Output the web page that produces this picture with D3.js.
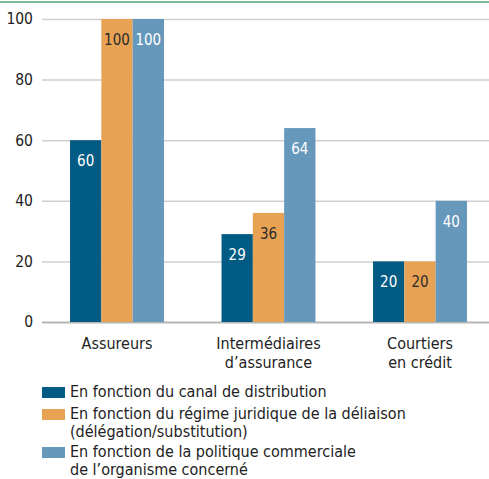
<!DOCTYPE html>
<html><head><meta charset="utf-8">
<script src="https://cdn.jsdelivr.net/npm/d3@7/dist/d3.min.js"></script>
<style>
body{margin:0;background:#fff;}
svg text{font-family:"DejaVu Sans Condensed","Liberation Sans Narrow",sans-serif;font-stretch:condensed;}
</style></head>
<body><svg id="c" width="489" height="479"></svg>
<script>
const categories = [["Assureurs"], ["Intermédiaires","d’assurance"], ["Courtiers","en crédit"]];
const seriesNames = [["En fonction du canal de distribution"],
  ["En fonction du régime juridique de la déliaison","(délégation/substitution)"],
  ["En fonction de la politique commerciale","de l’organisme concerné"]];
const canal = [60, 29, 20];
const regime = [100, 36, 20];
const politique = [100, 64, 40];
const yTicks = [0, 20, 40, 60, 80, 100];
const colors = ["#015b83", "#e8a254", "#6698bb"];
const labelColors = ["#ffffff", "#2b2b2b", "#ffffff"];

const series = [canal, regime, politique];
const svg = d3.select("#c");
svg.append("line").attr("x1",0).attr("x2",489).attr("y1",2).attr("y2",2)
  .attr("stroke","#7db89b").attr("stroke-width",2);

const y = d3.scaleLinear().domain([0,100]).range([322,19]);
const x0 = d3.scaleBand().domain(d3.range(categories.length)).range([41.25, 495.75]).paddingInner(0.38).paddingOuter(0.19);
const x1 = d3.scaleBand().domain(d3.range(series.length)).range([0, x0.bandwidth()]);

// grid
const yAxis = d3.axisLeft(y).tickValues(yTicks).tickSize(-460).tickPadding(9);
const ga = svg.append("g").attr("transform","translate(42,0)").call(yAxis);
ga.select(".domain").remove();
ga.selectAll(".tick line").attr("stroke", d => d===0 ? "#b5b5b5" : "#cfcfcf").attr("stroke-width", d=> d===0?2:1.5);
ga.selectAll(".tick text").attr("font-size",15.5).attr("fill","#222");

// bars
const g = svg.append("g");
categories.forEach((c,i)=>{
  series.forEach((s,j)=>{
    const xx = x0(i)+x1(j);
    g.append("rect").attr("x",xx).attr("y",y(s[i])).attr("width",x1.bandwidth()).attr("height",y(0)-y(s[i]))
      .attr("fill",colors[j]);
    g.append("text").attr("x",xx+x1.bandwidth()/2).attr("y",y(s[i])+26).attr("text-anchor","middle")
      .attr("font-size",15).attr("fill",labelColors[j]).text(s[i]);
  });
  const t = svg.append("text").attr("text-anchor","middle").attr("font-size",16).attr("fill","#222");
  c.forEach((line,k)=>{
    t.append("tspan").attr("x",x0(i)+x0.bandwidth()/2).attr("y",349+k*18.5).text(line);
  });
});

// legend
const legY = [387, 409, 447];
seriesNames.forEach((n,j)=>{
  svg.append("rect").attr("x",42).attr("y",legY[j]).attr("width",23).attr("height",11).attr("fill",colors[j]);
  const t = svg.append("text").attr("font-size",16).attr("fill","#222");
  n.forEach((line,k)=>{
    t.append("tspan").attr("x",70).attr("y",legY[j]+10+k*18).text(line);
  });
});
</script></body></html>
